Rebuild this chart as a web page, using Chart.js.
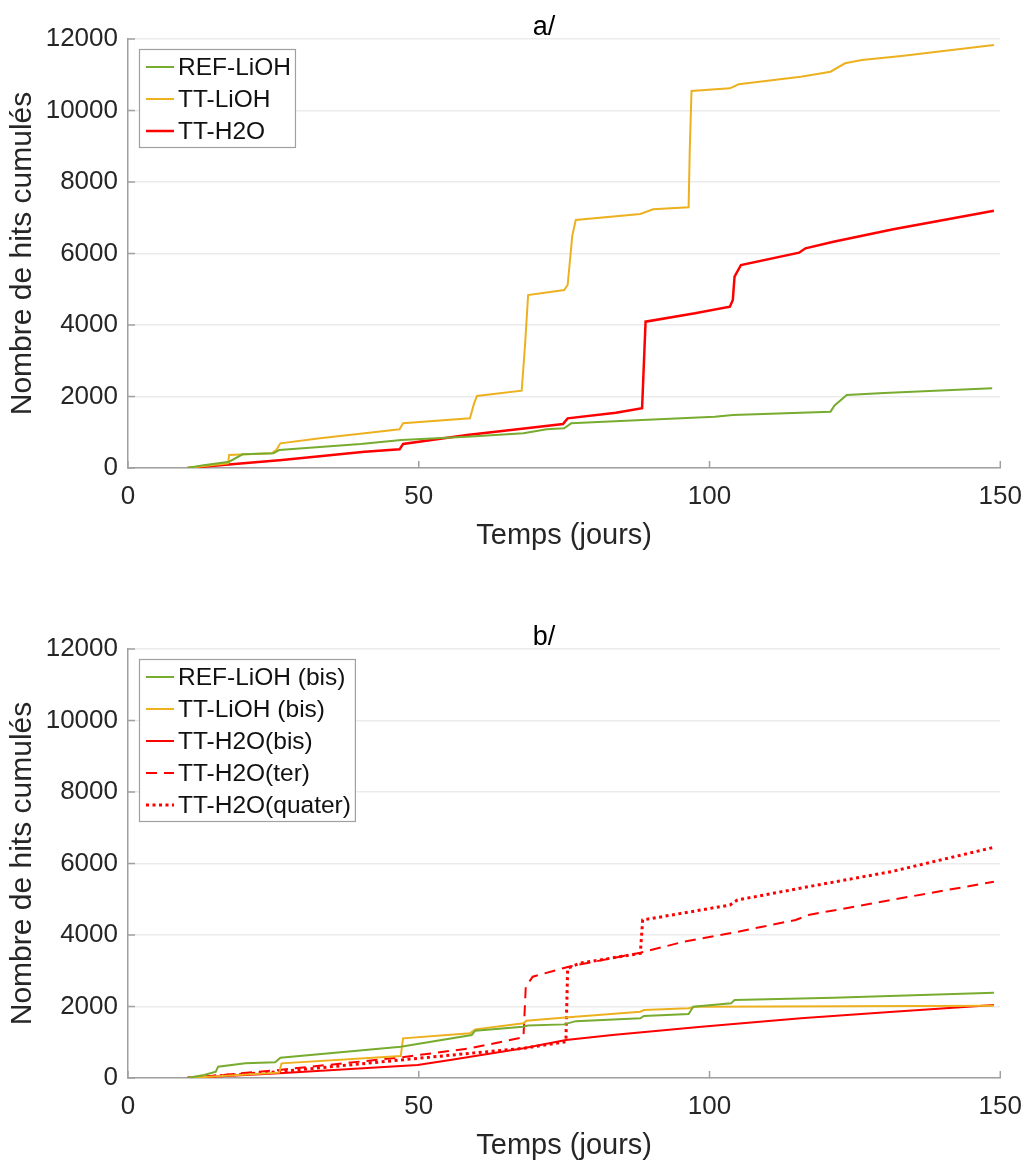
<!DOCTYPE html>
<html>
<head>
<meta charset="utf-8">
<script src="https://cdn.jsdelivr.net/npm/chart.js@4.4.1/dist/chart.umd.min.js"></script>
<style>
html, body { margin: 0; padding: 0; background: #fff; }
.panel { position: absolute; left: 0; width: 1035px; height: 550px; }
#panelA { top: 0; }
#panelB { top: 610px; }
</style>
</head>
<body>
<div class="panel" id="panelA"><canvas id="chartA"></canvas></div>
<div class="panel" id="panelB"><canvas id="chartB"></canvas></div>
<script>
// axis ticks
const xTicks = [0, 50, 100, 150];
const yTicks = [0, 2000, 4000, 6000, 8000, 10000, 12000];

// ---- panel a/ ----
const refLiohT = [10.2, 13, 17.4, 19.7, 25, 26, 33, 40, 47, 58.3, 68, 72, 75, 76.2, 88.4, 100.9, 104, 120.8, 121.5, 123.6, 130, 148.6];
const refLiohV = [0, 80, 176, 383, 410, 503, 590, 671, 783, 876, 970, 1082, 1110, 1250, 1343, 1436, 1480, 1576, 1750, 2042, 2100, 2228];

const ttLiohT = [10.2, 17.2, 17.4, 24.7, 25.5, 26.2, 33, 40.7, 46.7, 47.3, 58.8, 59.5, 60, 67.7, 68.3, 68.8, 75, 75.6, 76.4, 77, 88.1, 90.3, 96.4, 96.6, 96.9, 103.5, 105, 115.7, 120.8, 123.3, 126.2, 133, 148.9];
const ttLiohV = [0, 130, 364, 410, 503, 690, 830, 970, 1082, 1250, 1389, 1800, 2014, 2163, 3500, 4839, 4979, 5119, 6500, 6937, 7105, 7236, 7292, 8900, 10545, 10620, 10732, 10945, 11085, 11320, 11413, 11524, 11832];

const ttH2oT = [10.2, 26.5, 40.7, 46.7, 47.3, 58.3, 68.5, 74.8, 75.6, 83.9, 88.4, 89, 97.5, 103.5, 104, 104.3, 105.4, 115.4, 116.5, 121.3, 131.6, 148.9];
const ttH2oV = [0, 224, 457, 522, 671, 923, 1110, 1231, 1389, 1547, 1670, 4093, 4326, 4513, 4700, 5352, 5678, 6023, 6145, 6331, 6676, 7197];

// ---- panel b/ ----
const refLiohBisT = [10.2, 13.1, 15.1, 15.5, 20.2, 25.3, 26.2, 46.9, 59.1, 59.7, 67.9, 68.8, 75, 77, 88.1, 88.7, 96.4, 97.2, 103.7, 104.3, 121.3, 148.9];
const refLiohBisV = [0, 84, 177, 317, 410, 438, 569, 877, 1203, 1324, 1436, 1470, 1500, 1590, 1669, 1734, 1790, 1995, 2088, 2182, 2247, 2387];

const ttLiohBisT = [10.2, 26.0, 26.4, 46.9, 47.3, 58.8, 59.7, 68, 68.5, 75.2, 88.1, 88.7, 96.4, 97.5, 148.9];
const ttLiohBisV = [0, 150, 410, 615, 1110, 1250, 1361, 1529, 1604, 1690, 1856, 1902, 1949, 1995, 2020];

const ttH2oBisT = [10.2, 26, 49.8, 55.4, 68, 75.3, 83.3, 98.6, 115.7, 131.6, 148.9];
const ttH2oBisV = [0, 130, 364, 503, 830, 1063, 1203, 1436, 1669, 1856, 2042];

const ttH2oTerT = [10.2, 26, 46.9, 58.8, 68, 68.4, 69.6, 75.8, 88.1, 95.6, 103.5, 114.8, 117, 131.2, 148.9];
const ttH2oTerV = [0, 224, 578, 830, 1138, 2554, 2834, 3114, 3505, 3813, 4047, 4420, 4560, 4979, 5491];

const ttH2oQuaterT = [10.2, 26, 46.9, 58.8, 68, 75.3, 75.6, 77.6, 88.1, 88.5, 103.5, 104.8, 117, 131.2, 148.9];
const ttH2oQuaterV = [0, 177, 503, 690, 830, 1016, 3068, 3208, 3487, 4420, 4839, 4979, 5352, 5771, 6454];

const GREEN = '#77AC30', ORANGE = '#EDB120', RED = '#FF0000';
const FONT = '"Liberation Sans", Arial, sans-serif';
Chart.defaults.font.family = FONT;

function pts(t, v) {
    return t.map((x, i) => ({x: x, y: v[i]}));
}

function line(label, t, v, color, dash, width) {
    return {
        label: label,
        data: pts(t, v),
        borderColor: color,
        backgroundColor: color,
        borderWidth: width || 2,
        borderDash: dash || [],
        pointRadius: 0,
        tension: 0,
        fill: false
    };
}

// legend drawn as a boxed list inside the plot, top-left
const boxLegend = {
    id: 'boxLegend',
    afterDraw(chart) {
        const ctx = chart.ctx;
        const sets = chart.data.datasets;
        ctx.save();
        ctx.font = '24.5px ' + FONT;
        let w = 0;
        sets.forEach(d => { w = Math.max(w, ctx.measureText(d.label).width); });
        const x0 = chart.chartArea.left + 11;
        const y0 = chart.chartArea.top + 10;
        const rowH = 32;
        const boxW = 39 + w + 4;
        const boxH = sets.length * rowH + 2;
        ctx.fillStyle = '#fff';
        ctx.fillRect(x0, y0, boxW, boxH);
        ctx.strokeStyle = '#a0a0a0';
        ctx.lineWidth = 1.2;
        ctx.strokeRect(x0 + 0.5, y0 + 0.5, boxW, boxH);
        sets.forEach((d, i) => {
            const cy = y0 + 18 + i * rowH;
            ctx.strokeStyle = d.borderColor;
            ctx.lineWidth = d.borderWidth;
            ctx.setLineDash(d.borderDash);
            ctx.beginPath();
            ctx.moveTo(x0 + 7, cy);
            ctx.lineTo(x0 + 35, cy);
            ctx.stroke();
            ctx.setLineDash([]);
            ctx.fillStyle = '#111';
            ctx.textBaseline = 'middle';
            ctx.textAlign = 'left';
            ctx.fillText(d.label, x0 + 39, cy + 1);
        });
        ctx.restore();
    }
};

// panel title ("a/", "b/") and inward tick marks
const panelDecor = {
    id: 'panelDecor',
    afterDraw(chart, args, opts) {
        const ctx = chart.ctx;
        const area = chart.chartArea;
        const xs = chart.scales.x, ys = chart.scales.y;
        ctx.save();
        ctx.strokeStyle = '#a0a0a0';
        ctx.lineWidth = 1.5;
        xs.ticks.forEach(t => {
            const px = xs.getPixelForValue(t.value);
            ctx.beginPath();
            ctx.moveTo(px, area.bottom);
            ctx.lineTo(px, area.bottom - 7);
            ctx.stroke();
        });
        ys.ticks.forEach(t => {
            const py = ys.getPixelForValue(t.value);
            ctx.beginPath();
            ctx.moveTo(area.left, py);
            ctx.lineTo(area.left + 7, py);
            ctx.stroke();
        });
        ctx.fillStyle = '#000';
        ctx.font = '27px ' + FONT;
        ctx.textAlign = 'center';
        ctx.textBaseline = 'middle';
        ctx.fillText(opts.text, area.left + 0.477 * (area.right - area.left), area.top - 11);
        ctx.restore();
    }
};

function makeChart(id, title, datasets) {
    return new Chart(document.getElementById(id).getContext('2d'), {
        type: 'line',
        data: {datasets: datasets},
        options: {
            responsive: true,
            maintainAspectRatio: false,
            animation: false,
            layout: {padding: {top: 39, right: 27, left: 0, bottom: 0}},
            plugins: {
                legend: {display: false},
                tooltip: {enabled: false},
                panelDecor: {text: title}
            },
            scales: {
                x: {
                    type: 'linear',
                    min: xTicks[0],
                    max: xTicks[xTicks.length - 1],
                    afterBuildTicks: s => { s.ticks = xTicks.map(v => ({value: v})); },
                    afterFit: s => { s.height = 82; },
                    grid: {drawOnChartArea: false, drawTicks: false},
                    border: {color: '#a0a0a0', width: 1.5},
                    ticks: {padding: 13, color: '#262626', font: {size: 26}, callback: v => String(v)},
                    title: {
                        display: true,
                        text: 'Temps (jours)',
                        color: '#262626',
                        font: {size: 29, lineHeight: 1},
                        padding: {top: 0, bottom: 0}
                    }
                },
                y: {
                    min: yTicks[0],
                    max: yTicks[yTicks.length - 1],
                    afterBuildTicks: s => { s.ticks = yTicks.map(v => ({value: v})); },
                    afterFit: s => { s.width = 128; },
                    grid: {color: '#ebebeb', lineWidth: 1.5, drawTicks: false},
                    border: {color: '#a0a0a0', width: 1.5},
                    ticks: {padding: 10, color: '#262626', font: {size: 26}, callback: v => String(v)},
                    title: {
                        display: true,
                        text: 'Nombre de hits cumulés',
                        color: '#262626',
                        font: {size: 30, lineHeight: 1},
                        padding: {top: 8, bottom: 0}
                    }
                }
            }
        },
        plugins: [panelDecor, boxLegend]
    });
}

makeChart('chartA', 'a/', [
    line('REF-LiOH', refLiohT, refLiohV, GREEN),
    line('TT-LiOH', ttLiohT, ttLiohV, ORANGE),
    line('TT-H2O', ttH2oT, ttH2oV, RED, [], 2.5)
]);

makeChart('chartB', 'b/', [
    line('REF-LiOH (bis)', refLiohBisT, refLiohBisV, GREEN),
    line('TT-LiOH (bis)', ttLiohBisT, ttLiohBisV, ORANGE),
    line('TT-H2O(bis)', ttH2oBisT, ttH2oBisV, RED),
    line('TT-H2O(ter)', ttH2oTerT, ttH2oTerV, RED, [11, 7]),
    line('TT-H2O(quater)', ttH2oQuaterT, ttH2oQuaterV, RED, [3, 3.5], 3)
]);
</script>
</body>
</html>
